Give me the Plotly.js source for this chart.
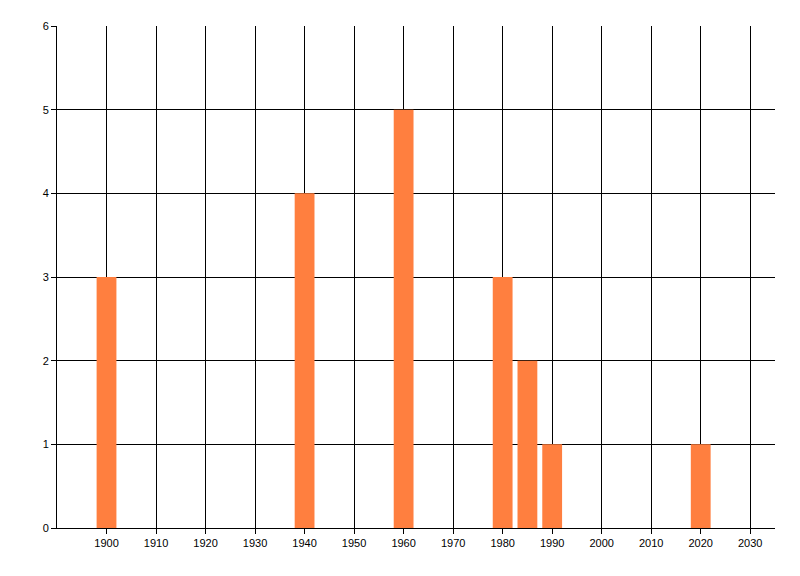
<!DOCTYPE html>
<html>
<head>
<meta charset="utf-8">
<script src="https://cdn.plot.ly/plotly-3.0.1.min.js"></script>
<style>html,body{margin:0;padding:0;background:#fff;}#chart{width:800px;height:576px;}</style>
</head>
<body>
<div id="chart"></div>
<script>
var years = [1900, 1940, 1960, 1980, 1985, 1990, 2020];
var counts = [3, 4, 5, 3, 2, 1, 1];
var xTicks = [1900, 1910, 1920, 1930, 1940, 1950, 1960, 1970, 1980, 1990, 2000, 2010, 2020, 2030];
var yTicks = [0, 1, 2, 3, 4, 5, 6];

var trace = {
  type: 'bar',
  x: years,
  y: counts,
  width: 4,
  marker: {color: '#FF7F3F', line: {width: 0}},
  hoverinfo: 'x+y'
};

var layout = {
  width: 800,
  height: 576,
  margin: {l: 57, r: 25, t: 26, b: 48},
  paper_bgcolor: '#ffffff',
  plot_bgcolor: '#ffffff',
  showlegend: false,
  font: {family: 'Liberation Sans, Arial, sans-serif', size: 11, color: '#000000'},
  xaxis: {
    range: [1890, 2035],
    tickvals: xTicks,
    ticktext: xTicks.map(String),
    showgrid: true,
    gridcolor: '#000000',
    gridwidth: 1,
    zeroline: false,
    showline: true,
    linecolor: '#000000',
    linewidth: 1,
    ticks: 'outside',
    ticklen: 5,
    tickcolor: '#000000',
    tickfont: {size: 11, color: '#000000'}
  },
  yaxis: {
    range: [0, 6],
    tickvals: yTicks,
    ticktext: yTicks.map(String),
    showgrid: true,
    gridcolor: '#000000',
    gridwidth: 1,
    zeroline: false,
    showline: true,
    linecolor: '#000000',
    linewidth: 1,
    ticks: 'outside',
    ticklen: 5,
    tickcolor: '#000000',
    tickfont: {size: 11, color: '#000000'}
  }
};

Plotly.newPlot('chart', [trace], layout, {displayModeBar: false, staticPlot: true});
</script>
</body>
</html>
